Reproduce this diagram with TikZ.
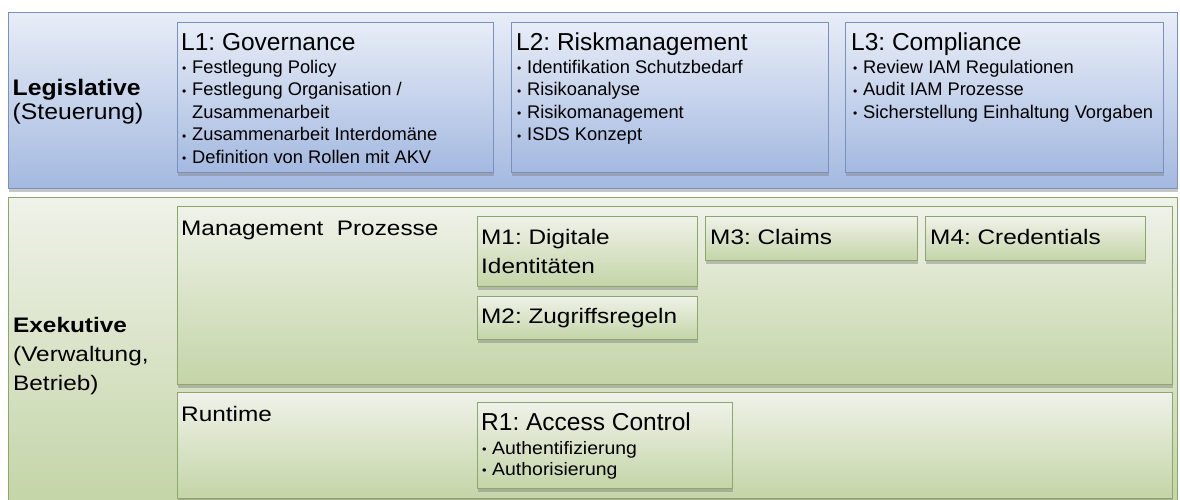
\documentclass[tikz,border=0pt]{standalone}
\usepackage{fontspec}
\setmainfont{Liberation Sans}
\newfontfamily\legfont[FakeStretch=1.1]{Liberation Sans}
\newfontfamily\widefont[FakeStretch=1.16]{Liberation Sans}
\newfontfamily\semiwidefont[FakeStretch=1.08]{Liberation Sans}
\usetikzlibrary{shadows}
\frenchspacing

\definecolor{bluetop}{RGB}{232,237,247}
\definecolor{bluebot}{RGB}{164,185,224}
\definecolor{blueline}{RGB}{122,145,190}
\definecolor{greentop}{RGB}{239,242,233}
\definecolor{greenbot}{RGB}{196,213,167}
\definecolor{greenline}{RGB}{141,166,110}

% bullet with fixed indent in front of an item text
\newcommand\bitem[1]{\makebox[10pt][l]{\raisebox{0.6pt}{\fontsize{12}{12}\selectfont\textbullet}}#1}

\tikzset{
  panel/.style={draw, rectangle, inner sep=0pt, anchor=north west, line width=0.8pt,
    drop shadow={shadow xshift=1pt, shadow yshift=-3.5pt, opacity=0.45}},
  bluepanel/.style={panel, draw=blueline, top color=bluetop, bottom color=bluebot},
  greenpanel/.style={panel, draw=greenline, top color=greentop, bottom color=greenbot},
  txt/.style={anchor=base west, inner sep=0pt, text=black},
  ttl/.style={txt, font=\fontsize{24.5}{28}\selectfont},
  bul/.style={txt, font=\fontsize{18.3}{22}\selectfont},
  rbul/.style={txt, font=\semiwidefont\fontsize{18}{22}\selectfont},
  lbl/.style={txt, font=\widefont\fontsize{21}{25}\selectfont},
  leg/.style={txt, font=\legfont\fontsize{22.5}{26}\selectfont},
  exe/.style={txt, font=\widefont\fontsize{21}{25}\selectfont},
}

\begin{document}
\begin{tikzpicture}[x=1pt, y=-1pt]
\useasboundingbox (0,0) rectangle (1180,500);
\clip (0,0) rectangle (1180,500);

% ---------- Legislative ----------
\node[bluepanel, minimum width=1169, minimum height=176] (leg) at (8,12) {};
\node[leg] (legA) at (12.5,96) {\bfseries Legislative};
\node[leg] (legB) at (12.5,120) {(Steuerung)};

\node[bluepanel, minimum width=316, minimum height=150] (L1) at (177,22) {};
\node[bluepanel, minimum width=317, minimum height=150] (L2) at (511,22) {};
\node[bluepanel, minimum width=318, minimum height=150] (L3) at (845,22) {};

\node[ttl] (L1t) at (181,50.7) {L1: Governance};
\node[bul] (L1a) at (182,73.5) {\bitem{Festlegung Policy}};
\node[bul] (L1b) at (182,96) {\bitem{Festlegung Organisation /}};
\node[bul] (L1c) at (192,118.5) {Zusammenarbeit};
\node[bul] (L1d) at (182,141) {\bitem{Zusammenarbeit Interdomäne}};
\node[bul] (L1e) at (182,163.5) {\bitem{Definition von Rollen mit AKV}};

\node[ttl] (L2t) at (516,50.7) {L2: Riskmanagement};
\node[bul] (L2a) at (517,73.5) {\bitem{Identifikation Schutzbedarf}};
\node[bul] (L2b) at (517,96) {\bitem{Risikoanalyse}};
\node[bul] (L2c) at (517,118.5) {\bitem{Risikomanagement}};
\node[bul] (L2d) at (517,141) {\bitem{ISDS Konzept}};

\node[ttl] (L3t) at (851,50.7) {L3: Compliance};
\node[bul] (L3a) at (853,73.5) {\bitem{Review IAM Regulationen}};
\node[bul] (L3b) at (853,96) {\bitem{Audit IAM Prozesse}};
\node[bul] (L3c) at (853,118.5) {\bitem{Sicherstellung Einhaltung Vorgaben}};

% ---------- Exekutive ----------
\node[greenpanel, minimum width=1169, minimum height=306] (exe) at (8,197) {};
\node[exe] (exeA) at (13,332) {\bfseries Exekutive};
\node[exe] (exeB) at (13,361) {(Verwaltung,};
\node[exe] (exeC) at (13,390) {Betrieb)};

% management processes
\node[greenpanel, minimum width=995, minimum height=178] (mgmt) at (177,206) {};
\node[lbl] (mgmtT) at (181,235.5) {Management\ \ Prozesse};

\node[greenpanel, minimum width=220, minimum height=70] (M1) at (477,216) {};
\node[greenpanel, minimum width=220, minimum height=43] (M2) at (477,296) {};
\node[greenpanel, minimum width=212, minimum height=44] (M3) at (705,216) {};
\node[greenpanel, minimum width=220, minimum height=44] (M4) at (925,216) {};
\node[lbl] (M1a) at (481,244) {M1: Digitale};
\node[lbl] (M1b) at (481,273) {Identitäten};
\node[lbl] (M2t) at (481,323) {M2: Zugriffsregeln};
\node[lbl] (M3t) at (710,244) {M3: Claims};
\node[lbl] (M4t) at (930,244) {M4: Credentials};

% runtime
\node[greenpanel, minimum width=995, minimum height=106] (rt) at (177,392) {};
\node[lbl] (rtT) at (181,421.5) {Runtime};

\node[greenpanel, minimum width=255, minimum height=86] (R1) at (477,402) {};
\node[ttl] (R1t) at (481,430) {R1: Access Control};
\node[rbul] (R1a) at (482,454) {\bitem{Authentifizierung}};
\node[rbul] (R1b) at (482,475) {\bitem{Authorisierung}};
\end{tikzpicture}
\end{document}
